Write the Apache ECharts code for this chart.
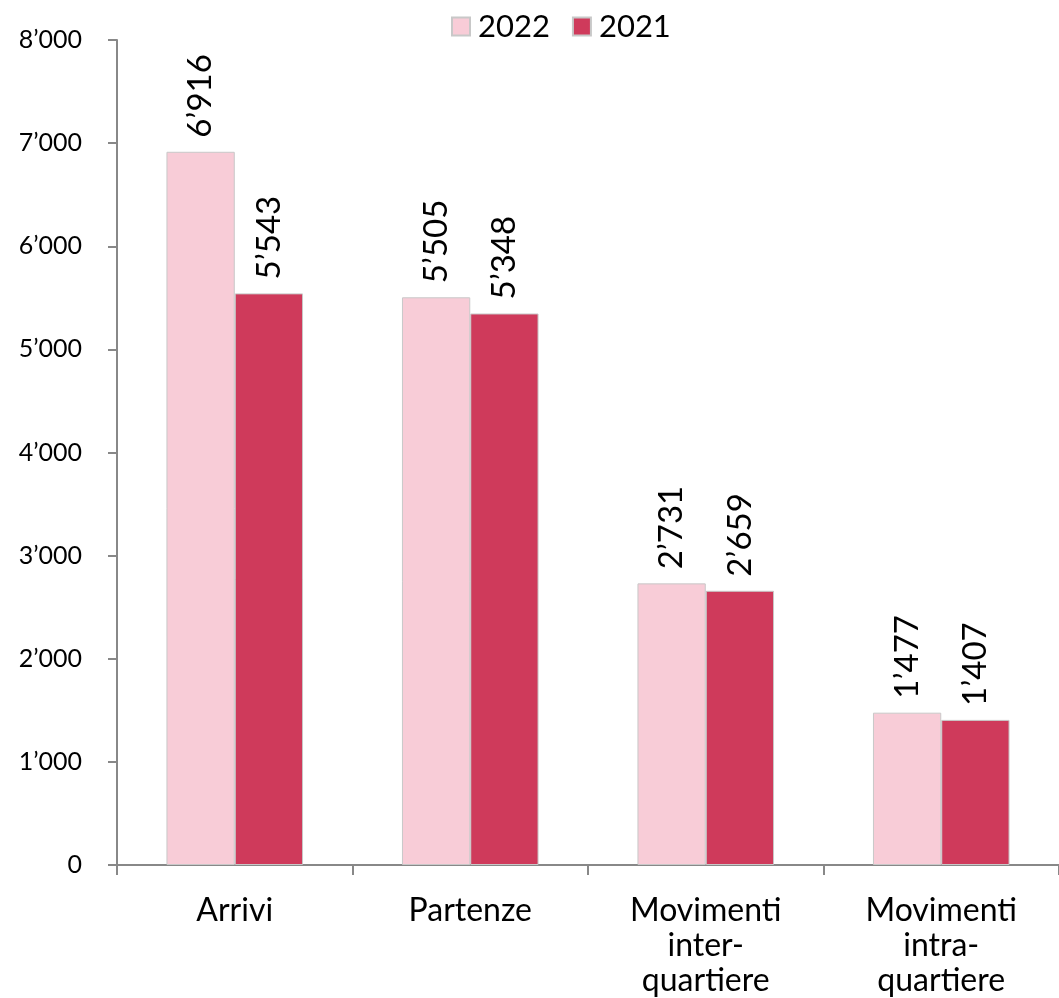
<!DOCTYPE html>
<html><head><meta charset="utf-8">
<script src="https://cdn.jsdelivr.net/npm/echarts@6/dist/echarts.min.js"></script>
<style>html,body{margin:0;padding:0;background:#fff}#c{width:1059px;height:998px}</style>
</head><body><div id="c"></div>
<script>
const categories = ['Arrivi', 'Partenze', 'Movimenti\ninter-\nquartiere', 'Movimenti\nintra-\nquartiere'];
const values2022 = [6916, 5505, 2731, 1477];
const values2021 = [5543, 5348, 2659, 1407];
const seriesNames = ['2022', '2021'];

function fmt(v){ return String(v).replace(/\B(?=(\d{3})+(?!\d))/g, '’'); }
const FONT = 'Lato';
const chart = echarts.init(document.getElementById('c'));
const labelCfg = {show:true, position:'top', rotate:90, align:'left', verticalAlign:'middle', distance:14,
  fontFamily:FONT, fontSize:33, color:'#000', formatter:p=>fmt(p.value)};
chart.setOption({
  animation:false,
  legend:{top:6, left:446, itemWidth:18, itemHeight:18, itemGap:22, icon:'rect',
    textStyle:{fontFamily:FONT, fontSize:31, color:'#000', padding:[0,0,0,3]}, data:seriesNames},
  grid:{left:117, right:0, top:40, bottom:131, containLabel:false},
  xAxis:{type:'category', data:categories,
    axisLine:{lineStyle:{color:'#888', width:2}},
    axisTick:{show:true, length:10, lineStyle:{color:'#888', width:2}},
    axisLabel:{fontFamily:FONT, fontSize:32, color:'#000', lineHeight:35, margin:28, interval:0}},
  yAxis:{type:'value', min:0, max:8000, interval:1000,
    axisLine:{show:true, lineStyle:{color:'#888', width:2}},
    axisTick:{show:true, length:9, lineStyle:{color:'#888', width:2}},
    splitLine:{show:false},
    axisLabel:{fontFamily:FONT, fontSize:25, color:'#000', margin:35, formatter:v=>fmt(v)}},
  series:[
    {name:seriesNames[0], type:'bar', data:values2022, barGap:'0%', barCategoryGap:'42%',
     itemStyle:{color:'#F8CCD7', borderColor:'#c8c8c8', borderWidth:1}, label:labelCfg},
    {name:seriesNames[1], type:'bar', data:values2021, barGap:'0%', barCategoryGap:'42%',
     itemStyle:{color:'#CF3A5B', borderColor:'#c8c8c8', borderWidth:1}, label:labelCfg}
  ]
});
</script></body></html>
